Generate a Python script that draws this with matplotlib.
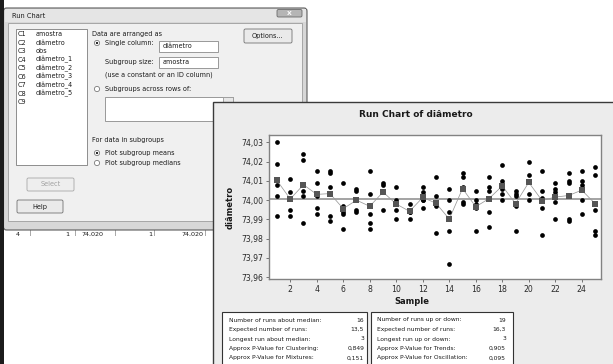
import numpy as np
import matplotlib
matplotlib.use("Agg")
import matplotlib.pyplot as plt
from matplotlib.patches import Rectangle, FancyBboxPatch, Circle
from matplotlib.ticker import FuncFormatter, FixedLocator

# ---------------- data ----------------
sample = list(range(1, 26))
diametro_1 = [74.030, 73.995, 73.988, 74.002, 73.992, 74.009, 73.995, 73.985, 74.008, 73.998,
              73.994, 74.004, 73.983, 74.006, 74.012, 74.000, 73.994, 74.006, 73.984, 74.000,
              73.982, 74.004, 74.010, 74.015, 73.982]
diametro_2 = [74.002, 73.992, 74.024, 73.996, 74.007, 73.994, 74.006, 74.003, 73.995, 74.000,
              73.998, 74.000, 74.002, 73.967, 74.014, 73.984, 74.012, 74.010, 74.002, 74.010,
              74.001, 73.999, 73.989, 74.008, 73.984]
diametro_3 = [74.019, 74.001, 74.021, 73.993, 74.015, 73.997, 73.994, 73.993, 74.009, 73.990,
              73.994, 74.007, 73.998, 73.994, 73.998, 74.005, 73.986, 74.018, 74.003, 74.013,
              74.015, 73.990, 73.990, 73.993, 73.995]
diametro_4 = [73.992, 74.011, 74.005, 74.015, 73.989, 73.985, 74.000, 74.015, 74.005, 74.007,
              73.995, 74.000, 73.997, 74.000, 73.999, 73.998, 74.005, 74.003, 74.005, 74.020,
              74.005, 74.006, 74.009, 74.000, 74.017]
diametro_5 = [74.008, 74.004, 74.002, 74.009, 74.014, 73.993, 74.005, 73.988, 74.004, 73.995,
              73.990, 73.996, 74.012, 73.984, 74.007, 73.996, 74.007, 74.000, 73.997, 74.003,
              73.996, 74.009, 74.014, 74.010, 74.013]

x_ticks = [2, 4, 6, 8, 10, 12, 14, 16, 18, 20, 22, 24]
y_ticks = [73.96, 73.97, 73.98, 73.99, 74.00, 74.01, 74.02, 74.03]

column_ids = ["C1", "C2", "C3", "C4", "C5", "C6", "C7", "C8", "C9"]
column_names = ["amostra", "diâmetro", "obs", "diâmetro_1", "diâmetro_2",
                "diâmetro_3", "diâmetro_4", "diâmetro_5", ""]

median_labels = ["Number of runs about median:", "Expected number of runs:",
                 "Longest run about median:", "Approx P-Value for Clustering:",
                 "Approx P-Value for Mixtures:"]
median_values = ["16", "13,5", "3", "0,849", "0,151"]
updown_labels = ["Number of runs up or down:", "Expected number of runs:",
                 "Longest run up or down:", "Approx P-Value for Trends:",
                 "Approx P-Value for Oscillation:"]
updown_values = ["19", "16,3", "3", "0,905", "0,095"]

worksheet_row = ["4", "1", "74,020", "1", "74,020"]

# ---------------- figure ----------------
W, H = 613, 364
fig = plt.figure(figsize=(W / 100, H / 100), dpi=100)
fig.patch.set_facecolor("white")
bg = fig.add_axes([0, 0, 1, 1])
bg.set_xlim(0, W)
bg.set_ylim(H, 0)
bg.axis("off")

UI = "#1a1a1a"
FS = 4.7


def rect(x0, y0, x1, y1, fc, ec="none", lw=0.6, z=1):
    bg.add_patch(Rectangle((x0, y0), x1 - x0, y1 - y0, facecolor=fc, edgecolor=ec, lw=lw, zorder=z))


def rrect(x0, y0, x1, y1, fc, ec, lw=0.6, r=1.5, z=1):
    bg.add_patch(FancyBboxPatch((x0, y0), x1 - x0, y1 - y0,
                                boxstyle=f"round,pad=0,rounding_size={r}",
                                facecolor=fc, edgecolor=ec, lw=lw, zorder=z))


def txt(x, y, s, size=FS, ha="left", va="center", color=UI, weight="normal", z=3):
    bg.text(x, y, s, fontsize=size, ha=ha, va=va, color=color, fontweight=weight,
            zorder=z, family="DejaVu Sans")


def radio(x, y, sel=False):
    bg.add_patch(Circle((x, y), 2.6, facecolor="white", edgecolor="#7a7a7a", lw=0.6, zorder=3))
    if sel:
        bg.add_patch(Circle((x, y), 1.1, facecolor="#111111", edgecolor="none", zorder=4))


# left black bar
rect(0, 0, 3.5, H, "#1c1c1c", z=8)

# worksheet row below dialog
for sx in [30, 75, 115, 154, 205]:
    bg.plot([sx, sx], [229, 238], color="#9a9a9a", lw=0.6, zorder=1)
for xc, s in zip([18, 67, 92, 150, 192], worksheet_row):
    txt(xc, 231.5, s, size=4.6, ha="center", va="top", z=1)
rect(3.5, 236.0, 213, H, "white", z=2)

# dialog frame
rrect(3.5, 8, 307, 230, "#d7d7d7", "#5c5c5c", lw=0.8, r=3, z=1)
rect(4.5, 9, 306, 22, "#e5e5e5", z=1)
txt(12, 15.5, "Run Chart", size=4.8)
rrect(277, 9.5, 302, 17, "#b5b5b5", "#6a6a6a", lw=0.6, r=1.5, z=2)
txt(289.5, 13.3, "X", size=4.5, ha="center", color="white", weight="bold")
rect(8, 23, 302, 221, "#f0f0f0", "#9c9c9c", lw=0.6, z=1)

# column list
rect(16, 29, 87, 165, "white", "#7c7c7c", lw=0.6, z=2)
for i, (cid, name) in enumerate(zip(column_ids, column_names)):
    y = 34.3 + 8.5 * i
    txt(17.5, y, cid)
    txt(35.5, y, name)

# right side controls
txt(92, 34, "Data are arranged as")
radio(97, 43, True)
txt(105, 43, "Single column:")
rect(159, 41, 218, 52, "white", "#8a8a8a", z=2)
txt(163, 46.5, "diâmetro")
txt(105, 62, "Subgroup size:")
rect(159, 57, 218, 68, "white", "#8a8a8a", z=2)
txt(163, 62.5, "amostra")
txt(105, 75, "(use a constant or an ID column)")
radio(97, 89)
txt(105, 89, "Subgroups across rows of:")
rect(105, 97, 233, 121, "white", "#8a8a8a", z=2)
rect(223, 97, 233, 121, "#e8e8e8", "#9a9a9a", z=2)
txt(92, 140, "For data in subgroups")
radio(97, 153, True)
txt(105, 153, "Plot subgroup means")
radio(97, 163)
txt(105, 163, "Plot subgroup medians")

# buttons
rrect(244, 29, 292, 43, "#eaeaea", "#727272", z=2)
txt(268, 36, "Options...", ha="center")
rrect(27, 178, 74, 191, "#eeeeee", "#a8a8a8", z=2)
txt(50.5, 184.5, "Select", ha="center", color="#a0a0a0")
rrect(17, 200, 63, 213, "#eaeaea", "#727272", z=2)
txt(40, 206.5, "Help", ha="center")

# graph window
rect(213, 102, 620, 370, "#ececec", "#3a3a3a", lw=1.0, z=5)

# stats boxes
rect(222, 311.7, 367, 370, "white", "#333333", lw=0.8, z=6)
rect(370.7, 311.7, 512.7, 370, "white", "#333333", lw=0.8, z=6)
row_y = [320, 329.5, 339, 348.5, 358]
for y, lab, val in zip(row_y, median_labels, median_values):
    txt(229, y, lab, size=4.3, z=7)
    txt(364, y, val, size=4.3, ha="right", z=7)
for y, lab, val in zip(row_y, updown_labels, updown_values):
    txt(377, y, lab, size=4.3, z=7)
    txt(506, y, val, size=4.3, ha="right", z=7)

# ---------------- run chart ----------------
L, R, T, B = 269.3, 601.0, 135.0, 279.0
ax = fig.add_axes([L / W, 1 - B / H, (R - L) / W, (B - T) / H])
ax.set_facecolor("white")

obs = np.array([diametro_1, diametro_2, diametro_3, diametro_4, diametro_5])
means = obs.mean(axis=0)
median = np.median(means)

ax.axhline(median, color="#a3a3a3", lw=1.4, zorder=1)
for row in obs:
    ax.plot(sample, row, "o", color="black", ms=3.4, mew=0, zorder=3)
ax.plot(sample, means, "-", color="#999999", lw=0.55, zorder=2)
ax.plot(sample, means, "s", color="#555555", ms=3.8, mew=0, zorder=4)

ax.set_xlim(0.42, 25.45)
ax.set_ylim(73.9591, 74.0338)
ax.xaxis.set_major_locator(FixedLocator(x_ticks))
ax.yaxis.set_major_locator(FixedLocator(y_ticks))
ax.yaxis.set_major_formatter(FuncFormatter(lambda v, p: f"{v:.2f}".replace(".", ",")))
ax.tick_params(direction="out", length=2.5, width=0.6, color="#606060",
               labelsize=5.6, pad=2, labelcolor="#2a2a2a")
for sp in ax.spines.values():
    sp.set_color("#828282")
    sp.set_linewidth(1.0)

ax.set_xlabel("Sample", fontsize=6, fontweight="bold", color="#1a1a1a")
ax.xaxis.set_label_coords((411.5 - L) / (R - L), (B - 302) / (B - T))
ax.xaxis.label.set_va("center")
ax.set_ylabel("diâmetro", fontsize=6, fontweight="bold", color="#1a1a1a")
ax.yaxis.set_label_coords((230.5 - L) / (R - L), 0.5)
ax.yaxis.label.set_va("center")
ax.set_title("Run Chart of diâmetro", fontsize=6.5, fontweight="bold", color="#1a1a1a",
             x=(415.5 - L) / (R - L), y=(B - 123) / (B - T), va="center")

fig.savefig("out.png", dpi=100)
